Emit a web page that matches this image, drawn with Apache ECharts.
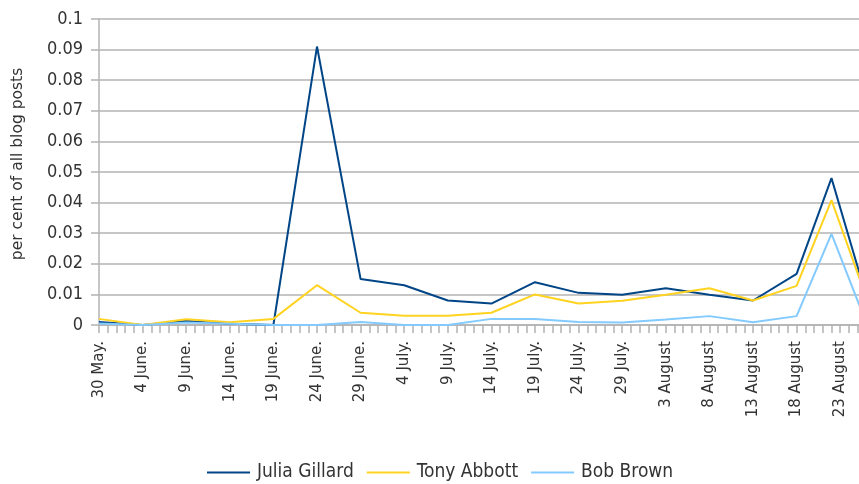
<!DOCTYPE html>
<html><head><meta charset="utf-8">
<script src="https://cdn.jsdelivr.net/npm/echarts@6/dist/echarts.min.js"></script>
<style>html,body{margin:0;padding:0;background:#fff}#c{width:859px;height:484px}</style>
</head><body><div id="c"></div>
<script>
// Tick labels shown every 5 days starting 30 May
const tickLabels = ['30 May.','4 June.','9 June.','14 June.','19 June.','24 June.','29 June.','4 July.','9 July.','14 July.','19 July.','24 July.','29 July.','3 August','8 August','13 August','18 August','23 August'];
// Day offsets (from 30 May) of the data points
const pointDays = [0,5,10,15,20,25,30,35,40,45,50,55,60,65,70,75,80,84,88];
const seriesNames = ['Julia Gillard','Tony Abbott','Bob Brown'];
const gillard = [0.001,0,0.0013,0.0004,0,0.091,0.015,0.013,0.008,0.007,0.014,0.0105,0.0099,0.012,0.0099,0.008,0.0167,0.048,0.0093];
const abbott  = [0.002,0,0.0019,0.0009,0.002,0.013,0.004,0.003,0.003,0.004,0.010,0.007,0.0079,0.0099,0.012,0.008,0.0128,0.0408,0.009];
const brown   = [0.0005,0,0.0008,0.0004,0,0,0.001,0,0,0.002,0.002,0.001,0.0008,0.0018,0.0029,0.0009,0.0029,0.0298,0.0006];
const colors = ['#004586','#ffd320','#83caff'];

// daily categories
const months = ['January','February','March','April','May','June','July','August','September'];
const nDays = 89;
const categories = [];
for (let i = 0; i < nDays; i++) {
  const d = new Date(Date.UTC(2010, 4, 30 + i));
  categories.push(d.getUTCDate() + ' ' + months[d.getUTCMonth()]);
}

const chart = echarts.init(document.getElementById('c'), null, {renderer: 'canvas'});
const mk = (name, vals, color) => ({
  name, type: 'line', symbol: 'none', data: pointDays.map((d, i) => [d, vals[i]]),
  lineStyle: {color, width: 2}, itemStyle: {color}, emphasis: {disabled: true}, animation: false
});
chart.setOption({
  animation: false,
  backgroundColor: '#fff',
  color: colors,
  grid: {left: 99, top: 19, height: 306, width: 88 * 8.72, containLabel: false, outerBoundsMode: 'none'},
  legend: {
    data: seriesNames, left: 207, top: 463, padding: 0, icon: 'rect', itemWidth: 43, itemHeight: 2, itemGap: 13,
    textStyle: {fontFamily: 'DejaVu Sans Condensed, DejaVu Sans', fontSize: 19, color: '#333', padding: [0, 0, 0, 2]}
  },
  xAxis: {
    type: 'category', data: categories, boundaryGap: false,
    axisLine: {lineStyle: {color: '#b3b3b3', width: 1.5}},
    axisTick: {show: true, interval: 0, length: 8, lineStyle: {color: '#b3b3b3', width: 1.5}},
    axisLabel: {interval: 4, rotate: 90, margin: 16, fontFamily: 'DejaVu Sans', fontSize: 15, color: '#333',
      formatter: (v, i) => (i % 5 === 0 && tickLabels[i / 5]) ? tickLabels[i / 5] : ''},
    splitLine: {show: false}
  },
  yAxis: {
    type: 'value', min: 0, max: 0.1, interval: 0.01,
    axisLine: {show: true, lineStyle: {color: '#b3b3b3', width: 1.5}},
    axisTick: {show: true, length: 8, lineStyle: {color: '#b3b3b3', width: 1.5}},
    splitLine: {lineStyle: {color: '#b3b3b3', width: 1.5}},
    axisLabel: {margin: 16, fontFamily: 'DejaVu Sans Condensed, DejaVu Sans', fontSize: 18, color: '#333',
      formatter: v => String(+v.toFixed(2))}
  },
  graphic: [{
    type: 'text', x: 18, y: 164, rotation: Math.PI / 2,
    style: {text: 'per cent of all blog posts', fontFamily: 'DejaVu Sans', fontSize: 15.5, fill: '#333',
      textAlign: 'center', textVerticalAlign: 'middle'}
  }],
  series: [mk(seriesNames[0], gillard, colors[0]), mk(seriesNames[1], abbott, colors[1]), mk(seriesNames[2], brown, colors[2])]
});
</script></body></html>
